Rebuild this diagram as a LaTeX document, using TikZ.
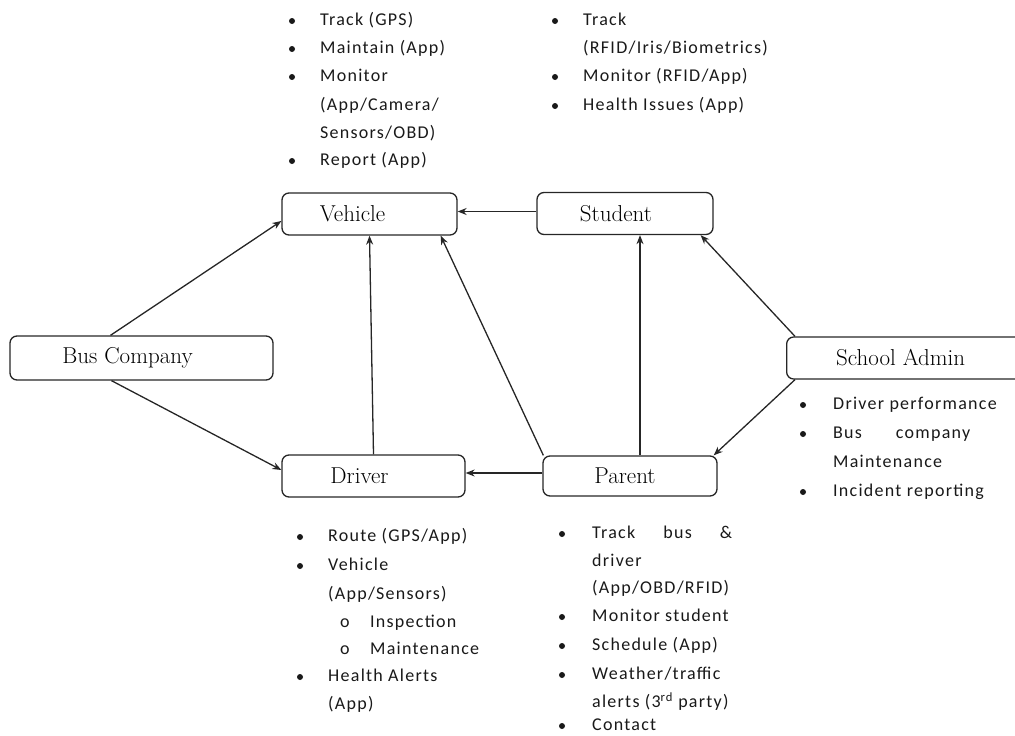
\documentclass[tikz,border=0pt]{standalone}
\usepackage{fontspec}
\newfontfamily\lstfont[LetterSpace=7]{Carlito}
\usetikzlibrary{arrows.meta,calc}
\newcommand\bulat[2]{\fill[black!90] (#1,#2) circle (3pt);}
\newcommand\txtat[4]{\node[lst] (#1) at (#2,#3) {#4};}
\begin{document}
\begin{tikzpicture}[x=1pt,y=-1pt,
 box/.style={draw=black!85, line width=1.3pt, rounded corners=7pt, minimum height=42pt, inner sep=0pt, font=\fontsize{23}{28}\selectfont},
 lst/.style={anchor=west, inner sep=0pt, font=\fontsize{18}{22}\lstfont, text height=13pt, text depth=4pt, text=black!90},
 arr/.style={draw=black!85, line width=1.3pt, -{Stealth[length=9pt,width=7pt]}},
]
\useasboundingbox (0,0) rectangle (1015,736);
% boxes
\node[box, minimum width=175pt] (veh) at (369.5,214) {Vehicle\hspace*{34pt}};
\node[box, minimum width=176pt] (stu) at (625,213.5) {Student\hspace*{18pt}};
\node[box, minimum width=263pt, minimum height=44pt] (bus) at (141.5,358) {Bus Company\hspace*{28pt}};
\node[box, minimum width=183pt] (drv) at (373.5,476) {Driver\hspace*{28pt}};
\node[box, minimum width=174pt, minimum height=40pt] (par) at (630,476) {Parent\hspace*{10pt}};
\node[box, minimum width=244pt, anchor=west] (sa) at (786,358) {School Admin\hspace*{16pt}};
% connectors
\draw[arr] ([xshift=-31pt]bus.north) -- ([yshift=-7pt]veh.west);
\draw[arr] ([xshift=-30pt]bus.south) -- ([yshift=6pt]drv.west);
\draw[arr] ([yshift=2pt]stu.west) -- ([yshift=2pt]stu.west -| veh.east);
\draw[arr] (drv.north) -- (veh.south);
\draw[arr] ([xshift=1pt]par.north west) -- ([xshift=-17pt]veh.south east);
\draw[arr] ([xshift=10pt]par.north) -- ([xshift=15pt]stu.south);
\draw[arr] ([yshift=3pt]par.west) -- ([yshift=3pt]par.west -| drv.east);
\draw[arr] ([xshift=9pt]sa.north west) -- ([xshift=-13pt]stu.south east);
\draw[arr] ([xshift=9pt]sa.south west) -- ([xshift=-4pt]par.north east);
% Vehicle list
\bulat{292}{21}\txtat{v1}{320}{21}{Track (GPS)}
\bulat{292}{49}\txtat{v2}{320}{49}{Maintain (App)}
\bulat{292}{77}\txtat{v3}{320}{77}{Monitor}
\txtat{v4}{320}{106}{(App/Camera/}
\txtat{v5}{320}{134}{Sensors/OBD)}
\bulat{292}{161}\txtat{v6}{320}{161}{Report (App)}
% Student list
\bulat{555}{21}\txtat{s1}{583}{21}{Track}
\txtat{s2}{583}{49}{(RFID/Iris/Biometrics)}
\bulat{555}{77}\txtat{s3}{583}{77}{Monitor (RFID/App)}
\bulat{555}{106}\txtat{s4}{583}{106}{Health Issues (App)}
% School admin list
\bulat{803}{405}\txtat{a1}{833}{405}{Driver performance}
\bulat{803}{434}\txtat{a2}{833}{434}{\makebox[137pt][s]{Bus company}}
\txtat{a3}{833}{463}{Maintenance}
\bulat{803}{492}\txtat{a4}{833}{492}{Incident reporting}
% Driver list
\bulat{300}{537}\txtat{d1}{328}{537}{Route (GPS/App)}
\bulat{300}{566}\txtat{d2}{328}{566}{Vehicle}
\txtat{d3}{328}{595}{(App/Sensors)}
\txtat{d4o}{340}{623}{o}\txtat{d4}{370}{623}{Inspection}
\txtat{d5o}{340}{650}{o}\txtat{d5}{370}{650}{Maintenance}
\bulat{300}{677}\txtat{d6}{328}{677}{Health Alerts}
\txtat{d7}{328}{705}{(App)}
% Parent list
\bulat{562}{534}\txtat{p1}{592}{534}{\makebox[140pt][s]{Track bus \&}}
\txtat{p2}{592}{562}{driver}
\txtat{p3}{592}{589}{(App/OBD/RFID)}
\bulat{562}{617}\txtat{p4}{592}{617}{Monitor student}
\bulat{562}{646}\txtat{p5}{592}{646}{Schedule (App)}
\bulat{562}{675}\txtat{p6}{592}{675}{Weather/traffic}
\txtat{p7}{592}{703}{alerts (3\textsuperscript{rd} party)}
\bulat{562}{726}\txtat{p8}{592}{726}{Contact}
\end{tikzpicture}
\end{document}
